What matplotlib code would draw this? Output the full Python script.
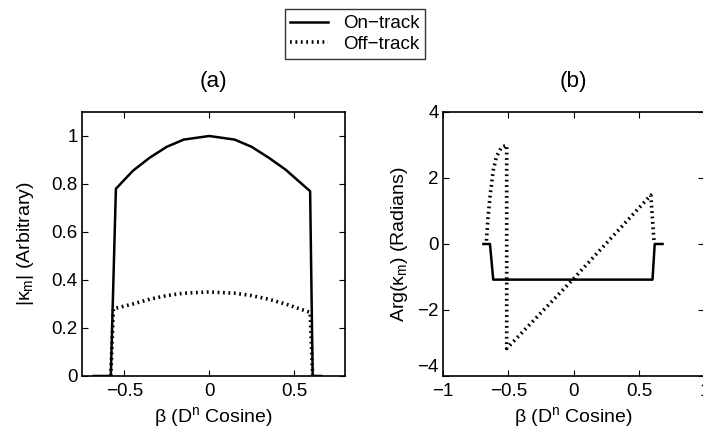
import numpy as np
import matplotlib
matplotlib.use("Agg")
import matplotlib.pyplot as plt

plt.rcParams['font.family'] = ['Liberation Sans', 'DejaVu Sans']
plt.rcParams['font.size'] = 13.5
plt.rcParams['mathtext.fontset'] = 'custom'
plt.rcParams['mathtext.rm'] = 'Liberation Sans'
plt.rcParams['mathtext.it'] = 'Liberation Sans'

# panel (a): magnitude
beta_a = [-0.68, -0.58, -0.55, -0.45, -0.35, -0.25, -0.15, 0.0,
          0.15, 0.25, 0.35, 0.45, 0.595, 0.61, 0.66]
mag_on = [0.0, 0.0, 0.78, 0.855, 0.91, 0.955, 0.985, 1.0,
          0.985, 0.955, 0.91, 0.86, 0.77, 0.0, 0.0]
beta_a_off = [-0.58, -0.565, -0.45, -0.35, -0.25, -0.15, 0.0,
              0.15, 0.25, 0.35, 0.45, 0.595, 0.61]
mag_off = [0.0, 0.28, 0.30, 0.32, 0.335, 0.345, 0.35,
           0.345, 0.335, 0.32, 0.30, 0.265, 0.0]

# panel (b): phase
beta_b_on = [-0.69, -0.64, -0.615, 0.603, 0.62, 0.68]
arg_on = [0.0, 0.0, -1.08, -1.08, 0.0, 0.0]
beta_b_off = [-0.667, -0.655, -0.64, -0.615, -0.59, -0.55, -0.512, -0.512,
              0.0, 0.59, 0.615]
arg_off = [0.1, 0.8, 1.42, 2.23, 2.65, 2.94, 2.99, -3.17,
           -1.05, 1.48, 0.06]

fig = plt.figure(figsize=(7.03, 4.38), dpi=100)
ax1 = fig.add_axes([0.1166, 0.1416, 0.374, 0.6027])
ax2 = fig.add_axes([0.630, 0.1416, 0.372, 0.6027])

dot = (0, (0.5, 1.0))

l1, = ax1.plot(beta_a, mag_on, color='black', lw=1.8, label='On\u2212track')
l2, = ax1.plot(beta_a_off, mag_off, color='black', lw=2.6, linestyle=dot,
               label='Off\u2212track')
ax1.set_xlim(-0.75, 0.8)
ax1.set_ylim(0, 1.1)
ax1.set_xticks([-0.5, 0, 0.5])
ax1.set_xticklabels(['\u22120.5', '0', '0.5'])
ax1.set_yticks([0, 0.2, 0.4, 0.6, 0.8, 1])
ax1.set_yticklabels(['0', '0.2', '0.4', '0.6', '0.8', '1'])
ax1.set_title('(a)', pad=18)
ax1.set_xlabel(r'$\beta$ (D$^{n}$ Cosine)', fontsize=14)
ax1.set_ylabel(r'|$\kappa_m$| (Arbitrary)', fontsize=14, labelpad=11)

ax2.plot(beta_b_on, arg_on, color='black', lw=1.8)
ax2.plot(beta_b_off, arg_off, color='black', lw=2.6, linestyle=dot)
ax2.set_xlim(-1, 1)
ax2.set_ylim(-4, 4)
ax2.set_xticks([-1, -0.5, 0, 0.5, 1])
ax2.set_xticklabels(['\u22121', '\u22120.5', '0', '0.5', '1'])
ax2.set_yticks([-4, -2, 0, 2, 4])
ax2.set_yticklabels(['\u22124', '\u22122', '0', '2', '4'])
ax2.set_title('(b)', pad=18)
ax2.set_xlabel(r'$\beta$ (D$^{n}$ Cosine)', fontsize=14)
ax2.set_ylabel(r'Arg($\kappa_m$) (Radians)', fontsize=14, labelpad=5)

for ax in (ax1, ax2):
    ax.tick_params(direction='in', top=True, right=True, length=4, width=0.8,
                   pad=3)
    ax.tick_params(axis='x', pad=5)
    for s in ax.spines.values():
        s.set_linewidth(1.2)

# nudge the lowest y label of (b) up a little so it clears the x label below
ax2.get_yticklabels()[0].set_va('bottom')

leg = fig.legend(handles=[l1, l2], loc='upper center',
                 bbox_to_anchor=(0.505, 1.0), frameon=True, fancybox=False,
                 edgecolor='black', handlelength=2.0, borderpad=0.3,
                 labelspacing=0.2, fontsize=13.5)
leg.get_frame().set_linewidth(1.0)

fig.savefig('out.png', dpi=100)
